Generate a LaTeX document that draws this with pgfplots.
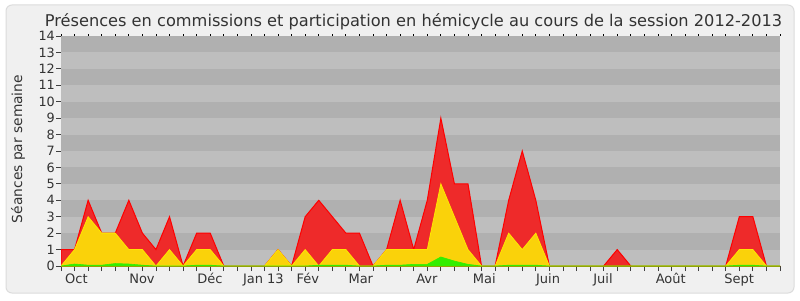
\documentclass[border=0pt]{standalone}
\usepackage{fontspec}
\setmainfont{DejaVu Sans}
\usepackage{pgfplots}
\pgfplotsset{compat=1.18}
\definecolor{bgc}{HTML}{F0F0F0}
\definecolor{bord}{HTML}{DCDCDC}
\definecolor{stripeL}{HTML}{BEBEBE}
\definecolor{stripeD}{HTML}{B0B0B0}
\definecolor{redfill}{HTML}{EE2A2A}
\definecolor{redline}{HTML}{FF0000}
\definecolor{yelfill}{HTML}{FAD20A}
\definecolor{yelline}{HTML}{FFE600}
\definecolor{grnfill}{HTML}{33EE00}
\definecolor{txt}{HTML}{333333}
\begin{document}
\begin{tikzpicture}[x=1pt,y=1pt]
\path[use as bounding box] (0,0) rectangle (800,300);
\fill[white] (0,0) rectangle (800,300);
\draw[bord, fill=bgc, line width=1pt, rounded corners=6pt] (6,7) rectangle (794,295);
\node[anchor=base, text=txt, font=\fontsize{16.2}{17}\selectfont] at (413.5,273) {Présences en commissions et participation en hémicycle au cours de la session 2012-2013};
\node[rotate=90, text=txt, font=\fontsize{13.8}{14}\selectfont] at (18,151) {Séances par semaine};
\begin{axis}[
  at={(61pt,34pt)}, anchor=south west,
  width=719pt, height=230pt, scale only axis,
  xmin=0, xmax=53, ymin=0, ymax=14,
  axis x line*=bottom, axis y line*=left,
  axis line style={draw=black!75, line width=1pt},
  xtick={0,...,53}, xticklabels={},
  ytick={0,...,14},
  tick align=outside,
  major tick length=5pt,
  tick style={draw=black!75, line width=0.8pt},
  /pgf/number format/assume math mode=true,
  yticklabel style={font=\fontsize{12.8}{13}\selectfont, text=txt, inner sep=1pt},
  extra x ticks={1.14,5.97,10.98,14.92,18.2,22.1,26.97,31.2,35.9,39.95,44.95,49.99},
  extra x tick labels={Oct,Nov,Déc,Jan 13,Fév,Mar,Avr,Mai,Juin,Juil,Août,Sept},
  extra x tick style={major tick length=0pt, xticklabel style={anchor=base, yshift=-17pt, font=\fontsize{13}{14}\selectfont, text=txt}},
]
\fill[stripeL] (axis cs:0,0) rectangle (axis cs:53,14);
\fill[stripeD] (axis cs:0,1) rectangle (axis cs:53,2);
\fill[stripeD] (axis cs:0,3) rectangle (axis cs:53,4);
\fill[stripeD] (axis cs:0,5) rectangle (axis cs:53,6);
\fill[stripeD] (axis cs:0,7) rectangle (axis cs:53,8);
\fill[stripeD] (axis cs:0,9) rectangle (axis cs:53,10);
\fill[stripeD] (axis cs:0,11) rectangle (axis cs:53,12);
\fill[stripeD] (axis cs:0,13) rectangle (axis cs:53,14);
\addplot[fill=redfill, draw=redline, line width=1pt] coordinates {
(0,1)(1,1)(2,4)(3,2)(4,2)(5,4)(6,2)(7,1)(8,3)(9,0)(10,2)(11,2)(12,0)(13,0)(14,0)(15,0)(16,1)(17,0)(18,3)(19,4)(20,3)(21,2)(22,2)(23,0)(24,1)(25,4)(26,1)(27,4)(28,9)(29,5)(30,5)(31,0)(32,0)(33,4)(34,7)(35,4)(36,0)(37,0)(38,0)(39,0)(40,0)(41,1)(42,0)(43,0)(44,0)(45,0)(46,0)(47,0)(48,0)(49,0)(50,3)(51,3)(52,0)(53,0)
} \closedcycle;
\addplot[fill=yelfill, draw=yelline, line width=0.8pt] coordinates {
(0,0)(1,1)(2,3)(3,2)(4,2)(5,1)(6,1)(7,0)(8,1)(9,0)(10,1)(11,1)(12,0)(13,0)(14,0)(15,0)(16,1)(17,0)(18,1)(19,0)(20,1)(21,1)(22,0)(23,0)(24,1)(25,1)(26,1)(27,1)(28,5)(29,3)(30,1)(31,0)(32,0)(33,2)(34,1)(35,2)(36,0)(37,0)(38,0)(39,0)(40,0)(41,0)(42,0)(43,0)(44,0)(45,0)(46,0)(47,0)(48,0)(49,0)(50,1)(51,1)(52,0)(53,0)
} \closedcycle;
\addplot[fill=grnfill, draw=grnfill, line width=0.6pt] coordinates {
(0,0)(1,0.12)(2,0.05)(3,0.05)(4,0.15)(5,0.12)(6,0.05)(7,0)(8,0)(9,0)(10,0.05)(11,0.05)(12,0)(13,0)(14,0)(15,0)(16,0)(17,0)(18,0)(19,0.05)(20,0.05)(21,0.05)(22,0)(23,0)(24,0.05)(25,0.05)(26,0.1)(27,0.1)(28,0.55)(29,0.3)(30,0.1)(31,0)(32,0)(33,0.05)(34,0.05)(35,0.05)(36,0)(37,0)(38,0)(39,0)(40,0)(41,0)(42,0)(43,0)(44,0)(45,0)(46,0)(47,0)(48,0)(49,0)(50,0.05)(51,0.05)(52,0)(53,0)
} \closedcycle;
\end{axis}
\begin{axis}[
  at={(61pt,34pt)}, anchor=south west,
  width=719pt, height=230pt, scale only axis,
  xmin=0, xmax=53, ymin=0, ymax=14,
  axis x line*=top, hide y axis,
  axis line style={draw=none},
  xtick={0,...,53}, xticklabels={},
  tick align=outside, major tick length=1.5pt,
  tick style={draw=black, line width=0.8pt},
]
\end{axis}
\end{tikzpicture}
\end{document}
